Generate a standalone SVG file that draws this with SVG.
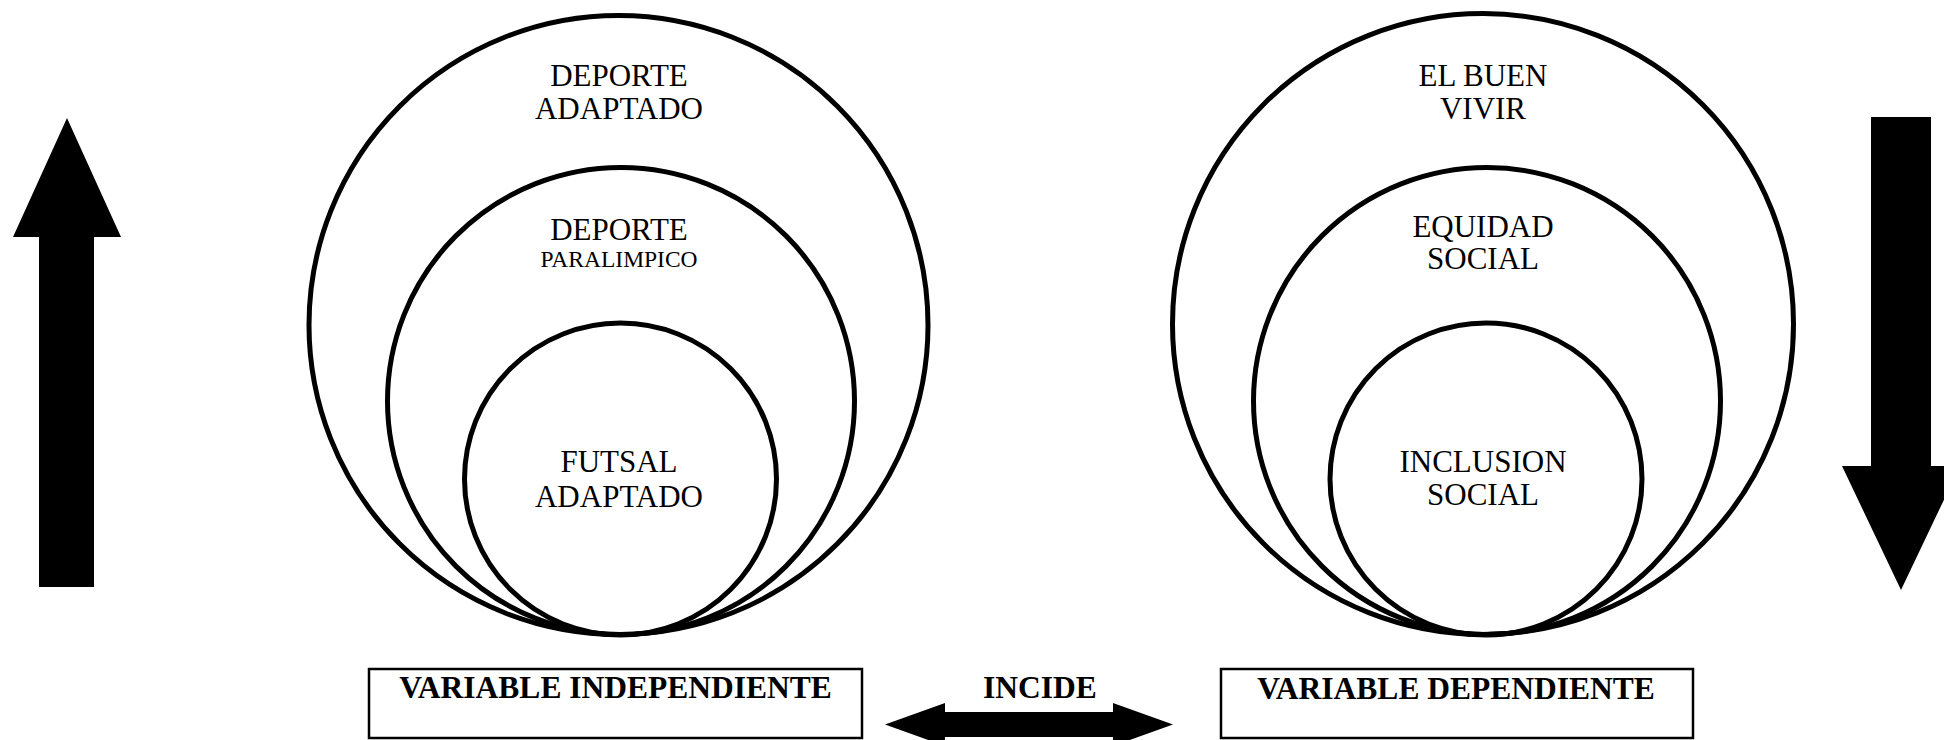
<svg xmlns="http://www.w3.org/2000/svg" width="1944" height="740" viewBox="0 0 1944 740">
<style>
.c{fill:none;stroke:#000;stroke-width:5}
.t{font-family:"Liberation Serif","Times New Roman",serif;font-size:31px;text-anchor:middle;fill:#000}
.s{font-size:23.5px}
.b{font-family:"Liberation Serif","Times New Roman",serif;font-size:31.5px;font-weight:bold;text-anchor:middle;fill:#000}
.box{fill:#fff;stroke:#000;stroke-width:2.5}
.a{fill:#000}
</style>
<rect width="1944" height="740" fill="#fff"/>
<g id="arrow-up"><polygon class="a" points="67,118 121,237 94,237 94,587 39,587 39,237 13,237"/></g>
<g id="arrow-down"><polygon class="a" points="1871,117 1931,117 1931,466 1960,466 1901,590 1842,466 1871,466"/></g>
<g id="deporte-adaptado"><circle class="c" cx="618.5" cy="325" r="309.5"/><text class="t" x="619" y="86">DEPORTE</text><text class="t" x="619" y="119">ADAPTADO</text></g>
<g id="deporte-paralimpico"><circle class="c" cx="621" cy="401" r="233.5"/><text class="t" x="619" y="240">DEPORTE</text><text class="t s" x="619" y="267">PARALIMPICO</text></g>
<g id="futsal-adaptado"><circle class="c" cx="620.5" cy="479" r="156"/><text class="t" x="619" y="472">FUTSAL</text><text class="t" x="619" y="507">ADAPTADO</text></g>
<g id="el-buen-vivir"><circle class="c" cx="1483" cy="324" r="310.5"/><text class="t" x="1483" y="86">EL BUEN</text><text class="t" x="1483" y="119">VIVIR</text></g>
<g id="equidad-social"><circle class="c" cx="1487" cy="401" r="233.5"/><text class="t" x="1483" y="237">EQUIDAD</text><text class="t" x="1483" y="269">SOCIAL</text></g>
<g id="inclusion-social"><circle class="c" cx="1486" cy="479" r="156"/><text class="t" x="1483" y="472">INCLUSION</text><text class="t" x="1483" y="505">SOCIAL</text></g>
<g id="var-independiente"><rect class="box" x="369" y="669" width="493" height="69"/><text class="b" x="615.5" y="698">VARIABLE INDEPENDIENTE</text></g>
<g id="var-dependiente"><rect class="box" x="1221" y="669" width="472" height="69"/><text class="b" x="1456" y="699">VARIABLE DEPENDIENTE</text></g>
<g id="connectors"><polygon class="a" points="885,724.5 945,703 945,712 1113,712 1113,703 1173,724.5 1113,746 1113,737 945,737 945,746"/><text class="b" x="1040" y="698">INCIDE</text></g>
</svg>
